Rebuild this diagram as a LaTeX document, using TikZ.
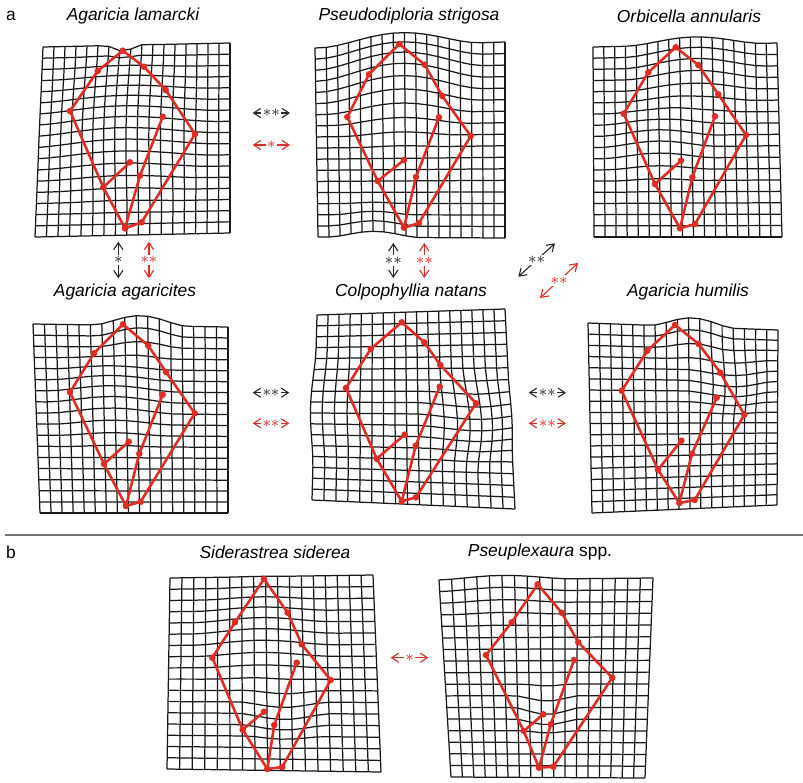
\documentclass[tikz,border=0pt]{standalone}
\usepackage{fontspec}
\setmainfont{Liberation Sans}
\usetikzlibrary{arrows.meta}

\definecolor{lmred}{RGB}{222,45,38}
\definecolor{cmpgrey}{RGB}{40,40,40}

% corners of the grid (tl, tr, bl, br) and two smooth bumps (dx, dy, u, v, r^2)
\newcommand{\corners}[8]{\def\TLx{#1}\def\TLy{#2}\def\TRx{#3}\def\TRy{#4}\def\BLx{#5}\def\BLy{#6}\def\BRx{#7}\def\BRy{#8}}
\newcommand{\bumpone}[5]{\def\Aax{#1}\def\Aay{#2}\def\Acu{#3}\def\Acv{#4}\def\As{#5}}
\newcommand{\bumptwo}[5]{\def\Bax{#1}\def\Bay{#2}\def\Bcu{#3}\def\Bcv{#4}\def\Bs{#5}}

\tikzset{
  gridline/.style={line width=0.62pt, black!90},
  outline/.style={line width=1.3pt, lmred, line join=round},
  landmark/.style={fill=lmred},
  taxon/.style={font=\fontsize{8.7}{10}\selectfont\itshape},
  letter/.style={font=\fontsize{8.7}{10}\selectfont},
  cmp/.style={{Straight Barb[length=3.5pt,width=4.6pt]}-{Straight Barb[length=3.5pt,width=4.6pt]}, line width=0.55pt, cmpgrey},
  cmpred/.style={cmp, lmred},
  sig/.style={fill=white, inner sep=0.8pt, font=\fontsize{8}{8}\selectfont}
}

% 17 x 17 warped grid with the current corners and bumps
\newcommand{\coralgrid}[1]{%
  \foreach \i in {0,...,17} {
    \foreach \j in {0,...,17} {
      \pgfmathsetmacro\gu{\i/17}
      \pgfmathsetmacro\gv{\j/17}
      \pgfmathsetmacro\hA{max(0,1-((\gu-\Acu)*(\gu-\Acu)+(\gv-\Acv)*(\gv-\Acv))/\As)}
      \pgfmathsetmacro\hB{max(0,1-((\gu-\Bcu)*(\gu-\Bcu)+(\gv-\Bcv)*(\gv-\Bcv))/\Bs)}
      \pgfmathsetmacro\px{(1-\gu)*(1-\gv)*\TLx+\gu*(1-\gv)*\TRx+(1-\gu)*\gv*\BLx+\gu*\gv*\BRx+\Aax*\hA*\hA+\Bax*\hB*\hB}
      \pgfmathsetmacro\py{(1-\gu)*(1-\gv)*\TLy+\gu*(1-\gv)*\TRy+(1-\gu)*\gv*\BLy+\gu*\gv*\BRy+\Aay*\hA*\hA+\Bay*\hB*\hB}
      \coordinate (#1-\i-\j) at (\px,\py);
    }
  }
  \foreach \i in {0,...,17} {
    \draw[gridline] (#1-\i-0) \foreach \j in {1,...,17} { -- (#1-\i-\j) };
    \draw[gridline] (#1-0-\i) \foreach \j in {1,...,17} { -- (#1-\j-\i) };
  }
}

% outline and landmarks of one colony
\newcommand{\coralshape}[1]{%
  \draw[outline] (#1-1) -- (#1-2) -- (#1-3) -- (#1-4) -- (#1-5) -- (#1-6) -- (#1-7) -- (#1-8) -- (#1-9) -- cycle;
  \draw[outline] (#1-4) -- (#1-10);
  \draw[outline] (#1-5) -- (#1-11) -- (#1-12);
  \foreach \k in {1,...,12} \fill[landmark] (#1-\k) circle[radius=1.65pt];
}

\begin{document}
\begin{tikzpicture}[x=0.5pt,y=-0.5pt]
\useasboundingbox (0,0) rectangle (803,782);

% Labels
\node[letter] (la) at (11,16) {a};
\node[letter] (lb) at (11,552) {b};
\node[taxon] (t-lam) at (133,16) {Agaricia lamarcki};
\node[taxon] (t-str) at (409,16) {Pseudodiploria strigosa};
\node[taxon] (t-ann) at (689,16) {Orbicella annularis};
\node[taxon] (t-aga) at (125,292) {Agaricia agaricites};
\node[taxon] (t-nat) at (411,292) {Colpophyllia natans};
\node[taxon] (t-hum) at (688,292) {Agaricia humilis};
\node[taxon] (t-sid) at (275,552) {Siderastrea siderea};
\node[letter] (t-pse) at (540,552) {\textit{Pseuplexaura} spp.};

% Agaricia lamarcki
\corners{43}{47}{230}{43}{35}{237}{230}{233}
\bumpone{0}{6}{0.43}{0}{0.01}
\bumptwo{-3}{-7}{0.45}{0.45}{0.25}
\coralgrid{glam}
\foreach \k/\x/\y in {1/122.7/50.7, 2/97.7/71, 3/70/111, 4/103.3/187.3, 5/125/228.3, 6/141.7/222.3,
  7/195/134, 8/165.7/90, 9/144/66.7, 10/130/162.3, 11/140/175.7, 12/162.7/116.7}
  \coordinate (lam-\k) at (\x,\y);
\coralshape{lam}

% Pseudodiploria strigosa
\corners{315}{48}{505}{42}{318}{237}{505}{238}
\bumpone{0}{-16}{0.45}{0.15}{0.2}
\bumptwo{0}{-6}{0.3}{1}{0.06}
\coralgrid{gstr}
\foreach \k/\x/\y in {1/399.3/44, 2/369/74.3, 3/347.3/117, 4/377.7/181, 5/404/227.7, 6/419/223,
  7/470.7/136, 8/442.3/96, 9/424.7/64.7, 10/404/160, 11/416/177, 12/439/117.3}
  \coordinate (str-\k) at (\x,\y);
\coralshape{str}

% Orbicella annularis
\corners{593}{47}{777}{43}{594}{237}{782}{237}
\bumpone{0}{-9}{0.55}{0.1}{0.15}
\bumptwo{0}{-6}{0.35}{0.5}{0.1}
\coralgrid{gann}
\foreach \k/\x/\y in {1/675.7/47.3, 2/648.3/72.3, 3/623.7/113.7, 4/655/184, 5/680/228.3, 6/695/224,
  7/746/135, 8/718.3/94.3, 9/698.3/65, 10/681/160.7, 11/692.3/177.3, 12/715/116.3}
  \coordinate (ann-\k) at (\x,\y);
\coralshape{ann}

% Agaricia agaricites
\corners{33}{324}{228}{327}{40}{513}{228}{513}
\bumpone{0}{-10}{0.55}{0}{0.06}
\bumptwo{0}{-6}{0.4}{0.4}{0.12}
\coralgrid{gaga}
\foreach \k/\x/\y in {1/123/324.3, 2/94/353.3, 3/70/392.3, 4/104/464, 5/126/506, 6/140.7/501.7,
  7/194.7/413.3, 8/166/372, 9/148.3/345.7, 10/128.7/441.7, 11/139.3/453.7, 12/162.7/394.7}
  \coordinate (aga-\k) at (\x,\y);
\coralshape{aga}

% Colpophyllia natans
\corners{317}{315}{505}{309}{312}{500}{515}{509}
\bumpone{-4}{0}{0}{0.5}{0.1}
\bumptwo{6}{5}{0.8}{0.55}{0.08}
\coralgrid{gnat}
\foreach \k/\x/\y in {1/401.7/322.3, 2/370.7/349, 3/346/388, 4/376.7/458.7, 5/401.7/501.3, 6/416/497.3,
  7/476/403.3, 8/440.3/365, 9/424.3/342.3, 10/404.7/434.7, 11/415.7/445.7, 12/439.7/386.7}
  \coordinate (nat-\k) at (\x,\y);
\coralshape{nat}

% Agaricia humilis
\corners{588}{323}{778}{330}{592}{513}{777}{505}
\bumpone{0}{-9}{0.55}{0}{0.05}
\bumptwo{3}{6}{0.75}{0.3}{0.06}
\coralgrid{ghum}
\foreach \k/\x/\y in {1/675/325, 2/647.3/350.7, 3/621.7/390.7, 4/658/469.7, 5/679.3/503, 6/694.7/500,
  7/744.3/414.7, 8/720.3/372.7, 9/698.7/344, 10/681.3/440.7, 11/692/453.7, 12/716.7/397.7}
  \coordinate (hum-\k) at (\x,\y);
\coralshape{hum}

% Siderastrea siderea
\corners{170}{578}{373}{575}{167}{769}{381}{772}
\bumpone{0}{-5}{0.45}{0.3}{0.12}
\bumptwo{0}{6}{0.55}{0.7}{0.05}
\coralgrid{gsid}
\foreach \k/\x/\y in {1/264/579, 2/235/622.3, 3/212.3/657.7, 4/242.7/729.7, 5/267.3/769, 6/282.3/767,
  7/330.7/680, 8/301.7/644.3, 9/287.7/612.7, 10/264/711.7, 11/274.3/725, 12/296.7/662.7}
  \coordinate (sid-\k) at (\x,\y);
\coralshape{sid}

% Pseuplexaura spp.
\corners{439}{580}{653}{578}{451}{777}{645}{778}
\bumpone{0}{-4}{0.3}{0}{0.1}
\bumptwo{0}{7}{0.5}{0.65}{0.03}
\coralgrid{gpse}
\foreach \k/\x/\y in {1/537.7/584.3, 2/511.7/622.3, 3/486/655, 4/523.7/731, 5/539/767.7, 6/553.3/766.7,
  7/612.3/677.7, 8/578.3/642.3, 9/561.7/612.7, 10/543.3/714.3, 11/550.7/724.3, 12/574/660}
  \coordinate (pse-\k) at (\x,\y);
\coralshape{pse}

% separator between a and b
\coordinate (sep-l) at (5,535);
\coordinate (sep-r) at (803,535);
\draw[line width=0.6pt, black!55] (sep-l) -- (sep-r);

% Comparisons (black and red)
\coordinate (lamstr-k1) at (252.7,113);   \coordinate (lamstr-k2) at (290,113);
\coordinate (lamstr-r1) at (252.7,145);   \coordinate (lamstr-r2) at (290,145);
\draw[cmp] (lamstr-k1) -- node[sig]{${\ast}{\ast}$} (lamstr-k2);
\draw[cmpred] (lamstr-r1) -- node[sig]{$\ast$} (lamstr-r2);

\coordinate (lamaga-k1) at (118.3,241.7); \coordinate (lamaga-k2) at (118.3,278.3);
\coordinate (lamaga-r1) at (149,241.7);   \coordinate (lamaga-r2) at (149,278.3);
\draw[cmp] (lamaga-k1) -- node[sig]{$\ast$} (lamaga-k2);
\draw[cmpred] (lamaga-r1) -- node[sig]{${\ast}{\ast}$} (lamaga-r2);

\coordinate (strnat-k1) at (393.3,243);   \coordinate (strnat-k2) at (393.3,278);
\coordinate (strnat-r1) at (424.3,243);   \coordinate (strnat-r2) at (424.3,278);
\draw[cmp] (strnat-k1) -- node[sig]{${\ast}{\ast}$} (strnat-k2);
\draw[cmpred] (strnat-r1) -- node[sig]{${\ast}{\ast}$} (strnat-r2);

\coordinate (strhum-k1) at (518.3,276.7); \coordinate (strhum-k2) at (555,243.3);
\coordinate (strhum-r1) at (540,298);     \coordinate (strhum-r2) at (578,263);
\draw[cmp] (strhum-k1) -- node[sig]{${\ast}{\ast}$} (strhum-k2);
\draw[cmpred] (strhum-r1) -- node[sig]{${\ast}{\ast}$} (strhum-r2);

\coordinate (aganat-k1) at (252.7,392.7); \coordinate (aganat-k2) at (289.3,392.7);
\coordinate (aganat-r1) at (252.7,423.3); \coordinate (aganat-r2) at (289.3,423.3);
\draw[cmp] (aganat-k1) -- node[sig]{${\ast}{\ast}$} (aganat-k2);
\draw[cmpred] (aganat-r1) -- node[sig]{${\ast}{\ast}$} (aganat-r2);

\coordinate (nathum-k1) at (528.7,392.7); \coordinate (nathum-k2) at (566,392.7);
\coordinate (nathum-r1) at (528.7,423.3); \coordinate (nathum-r2) at (566,423.3);
\draw[cmp] (nathum-k1) -- node[sig]{${\ast}{\ast}$} (nathum-k2);
\draw[cmpred] (nathum-r1) -- node[sig]{${\ast}{\ast}$} (nathum-r2);

\coordinate (sidpse-r1) at (390.7,657.7); \coordinate (sidpse-r2) at (428.3,657.7);
\draw[cmpred] (sidpse-r1) -- node[sig]{$\ast$} (sidpse-r2);

\end{tikzpicture}
\end{document}
